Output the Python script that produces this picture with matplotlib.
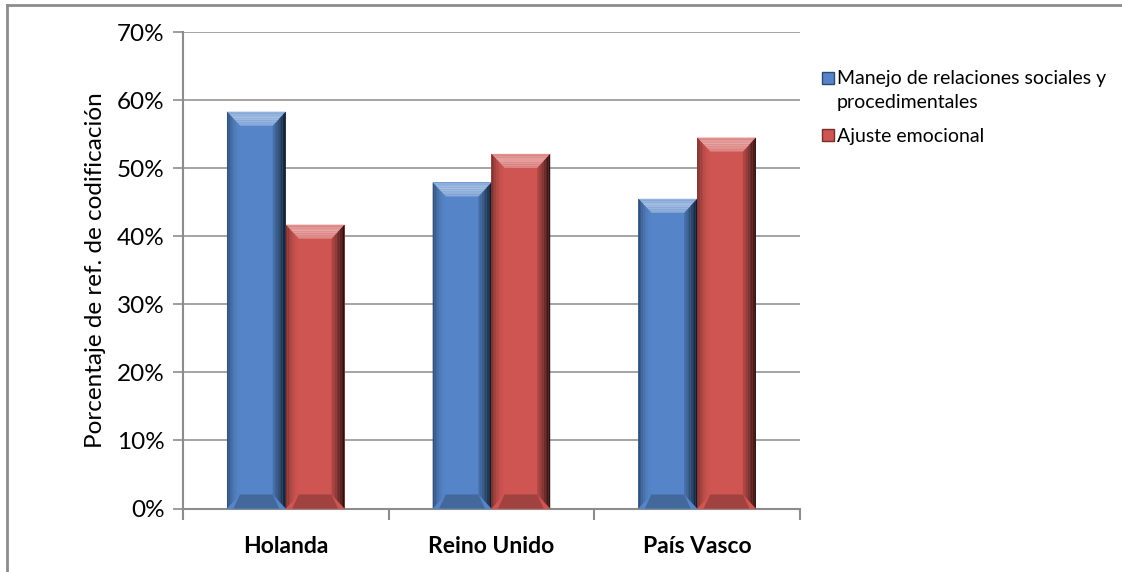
import matplotlib
matplotlib.use("Agg")
import matplotlib.pyplot as plt
from matplotlib.patches import Polygon, Rectangle
from matplotlib.lines import Line2D
from matplotlib.colors import to_rgb
import numpy as np

plt.rcParams["font.family"] = ["Lato", "DejaVu Sans"]

# datos
categorias = ["Holanda", "Reino Unido", "País Vasco"]
manejo = [58.3, 47.9, 45.5]
ajuste = [41.7, 52.1, 54.5]
series = [
    ("Manejo de relaciones sociales y\nprocedimentales", manejo, "#5585C8"),
    ("Ajuste emocional", ajuste, "#CF5552"),
]
yticks = [0, 10, 20, 30, 40, 50, 60, 70]


def mezcla(color, otro, t):
    c = np.array(to_rgb(color))
    o = np.array(to_rgb(otro))
    return tuple(c * (1 - t) + o * t)


def barra_bisel(ax, x0, ancho, alto, color, bx, by):
    x1 = x0 + ancho
    # cuerpo
    ax.add_patch(Rectangle((x0, 0), ancho, alto, facecolor=color,
                           edgecolor="none", zorder=3))
    n = 8
    for i in range(n):
        t0, t1 = i / n, (i + 1) / n
        # bisel superior: claro en el centro, se oscurece hacia los bordes
        ya = alto - by * t0
        yb = alto - by * t1
        k = 1 - abs(t1 - 0.5) * 1.2
        ax.add_patch(Polygon([(x0 + bx * t0, ya), (x1 - bx * t0, ya),
                              (x1 - bx * t1, yb), (x0 + bx * t1, yb)],
                             facecolor=mezcla(color, "white", 0.2 + 0.28 * k),
                             edgecolor="none", zorder=4))
        # lado izquierdo: borde exterior algo más oscuro
        xa = x0 + bx * t0
        xb = x0 + bx * t1
        ax.add_patch(Polygon([(xa, by * t0), (xa, alto - by * t0),
                              (xb, alto - by * t1), (xb, by * t1)],
                             facecolor=mezcla(color, "black", 0.4 * (1 - t0) ** 2),
                             edgecolor="none", zorder=4))
        # lado derecho con degradado oscuro
        xa = x1 - bx + bx * t0
        xb = x1 - bx + bx * t1
        ax.add_patch(Polygon([(xa, by * (1 - t0)), (xa, alto - by * (1 - t0)),
                              (xb, alto - by * (1 - t1)), (xb, by * (1 - t1))],
                             facecolor=mezcla(color, "black", 0.12 + 0.68 * t1 ** 1.3),
                             edgecolor="none", zorder=4))
    # bisel inferior
    ax.add_patch(Polygon([(x0 + bx * 0.5, 0), (x1 - bx * 0.5, 0), (x1 - bx, by),
                          (x0 + bx, by)],
                         facecolor=mezcla(color, "black", 0.22),
                         edgecolor="none", zorder=4))


fig = plt.figure(figsize=(11.22, 5.72), dpi=100)
ax = fig.add_axes([0.163, 0.111, 0.550, 0.833])

x = np.arange(len(categorias))
ancho = 1 / 3.5
bx = 13 / 205.7
by = 14 / 6.81

for j, (nombre, valores, color) in enumerate(series):
    for i, v in enumerate(valores):
        x0 = x[i] - ancho + j * ancho
        barra_bisel(ax, x0, ancho, v, color, bx, by)

ax.set_xlim(-0.5, len(categorias) - 0.5)
ax.set_ylim(0, 70)
ax.set_yticks(yticks)
ax.set_yticklabels([f"{t}%" for t in yticks], fontsize=17.5)
ax.yaxis.grid(True, color="#8C8C8C", linewidth=1.1, zorder=0)
ax.set_axisbelow(True)

ax.set_xticks(np.arange(len(categorias) + 1) - 0.5)
ax.set_xticklabels([])
ax.set_xticks(x, minor=True)
ax.set_xticklabels(categorias, minor=True, fontsize=16.5, fontweight="bold")
ax.tick_params(axis="x", which="minor", length=0, pad=20)
ax.tick_params(axis="x", which="major", length=8, width=1.5, color="#8C8C8C")
ax.tick_params(axis="y", length=7, width=1.2, color="#8C8C8C", pad=6)

for lado in ["top", "right"]:
    ax.spines[lado].set_visible(False)
for lado in ["left", "bottom"]:
    ax.spines[lado].set_color("#8C8C8C")
    ax.spines[lado].set_linewidth(1.5)

ax.set_ylabel("Porcentaje de ref. de codificación", fontsize=17.5, labelpad=8)

# leyenda dibujada a mano: cuadrado alineado con la primera línea del texto
ley_y = [0.865, 0.765]
for (nombre, _, color), yy in zip(series, ley_y):
    fig.add_artist(Rectangle((0.7325, yy - 0.0115), 0.0105, 0.021,
                             facecolor=color,
                             edgecolor=mezcla(color, "black", 0.45),
                             linewidth=1, transform=fig.transFigure))
    fig.text(0.746, yy + 0.012, nombre, fontsize=14, va="top", ha="left",
             linespacing=1.45)

# borde del área del gráfico
fig.add_artist(Line2D([0.006, 0.006], [0, 0.992], color="#8C8C8C",
                      linewidth=2, transform=fig.transFigure))
fig.add_artist(Line2D([0.006, 1], [0.992, 0.992], color="#8C8C8C",
                      linewidth=2, transform=fig.transFigure))

fig.savefig("out.png", dpi=100)
